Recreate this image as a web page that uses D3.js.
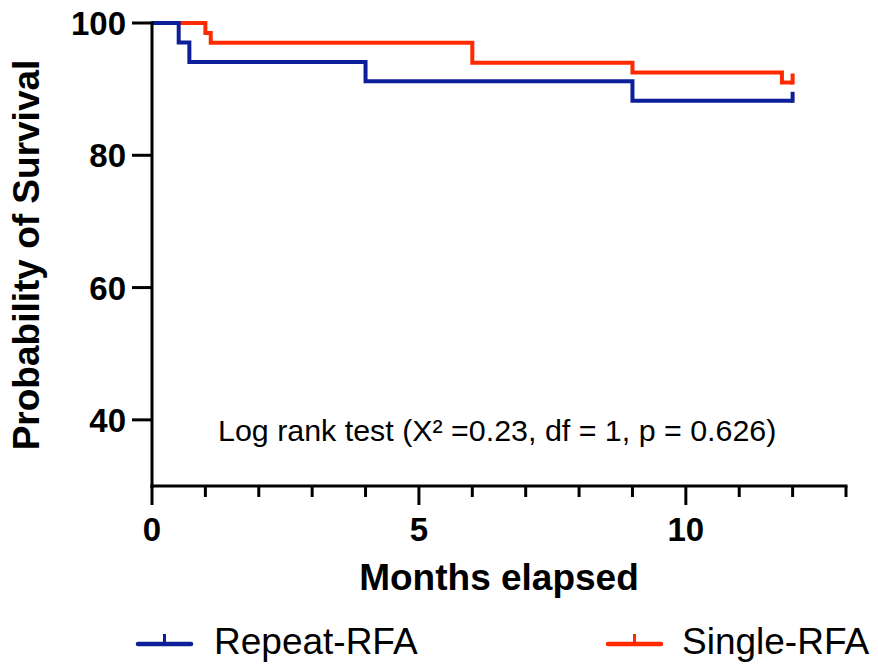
<!DOCTYPE html>
<html>
<head>
<meta charset="utf-8">
<script src="https://cdn.jsdelivr.net/npm/d3@7"></script>
<style>
  body { margin: 0; background: #fff; }
  text { font-family: "Liberation Sans", Arial, sans-serif; }
</style>
</head>
<body>
<div id="chart"></div>
<script>
// Kaplan-Meier steps
const repeatTimes = [0, 0.5, 0.7, 4, 9, 12];
const repeatSurv = [100, 97.06, 94.12, 91.18, 88.24, 88.24];
const singleTimes = [0, 1.0, 1.1, 6, 9, 11.8, 12];
const singleSurv = [100, 98.5, 97.0, 94.0, 92.5, 91.0, 91.0];
const censorTime = 12;
const seriesNames = ["Repeat-RFA", "Single-RFA"];
const seriesColors = ["#0c1f98", "#ff2a00"];
const yTicks = [40, 60, 80, 100];
const xMajor = [0, 5, 10];
const xMinor = d3.range(0, 14);

const width = 878, height = 666;
const margin = { left: 152, top: 23, right: 32, bottom: 180 };

const svg = d3.select("#chart").append("svg")
    .attr("width", width)
    .attr("height", height);

const x = d3.scaleLinear().domain([0, 13]).range([margin.left, width - margin.right]);
const y = d3.scaleLinear().domain([30, 100]).range([486, margin.top]);

//curves
const series = [
    { name: seriesNames[0], t: repeatTimes, s: repeatSurv, color: seriesColors[0] },
    { name: seriesNames[1], t: singleTimes, s: singleSurv, color: seriesColors[1] }
];
const line = d3.line()
    .x(d => x(d[0]))
    .y(d => y(d[1]))
    .curve(d3.curveStepAfter);

// red first so blue sits on top near 100
series.slice().reverse().forEach(sr => {
    const pts = sr.t.map((t, i) => [t, sr.s[i]]);
    svg.append("path")
        .attr("d", line(pts))
        .attr("fill", "none")
        .attr("stroke", sr.color)
        .attr("stroke-width", 4)
        .attr("stroke-linejoin", "miter");
    //censor mark
    const last = sr.s[sr.s.length - 1];
    svg.append("line")
        .attr("x1", x(censorTime)).attr("x2", x(censorTime))
        .attr("y1", y(last) + 2).attr("y2", y(last) - 9)
        .attr("stroke", sr.color)
        .attr("stroke-width", 4);
});

//Y axis
svg.append("line")
    .attr("x1", x(0)).attr("x2", x(0))
    .attr("y1", y(100) - 1.5).attr("y2", y(30) + 2)
    .attr("stroke", "#000").attr("stroke-width", 3);
svg.selectAll(".ytick")
    .data(yTicks)
    .enter().append("line")
    .attr("x1", x(0) - 20).attr("x2", x(0))
    .attr("y1", d => y(d)).attr("y2", d => y(d))
    .attr("stroke", "#000").attr("stroke-width", 3);
svg.selectAll(".ylab")
    .data(yTicks)
    .enter().append("text")
    .attr("x", 126)
    .attr("y", d => y(d) + 12)
    .attr("text-anchor", "end")
    .attr("font-size", 33)
    .attr("font-weight", "bold")
    .text(d => d);

//X axis
svg.append("line")
    .attr("x1", x(0) - 1.5).attr("x2", x(13) + 1.5)
    .attr("y1", y(30)).attr("y2", y(30))
    .attr("stroke", "#000").attr("stroke-width", 3);
svg.selectAll(".xtick")
    .data(xMinor)
    .enter().append("line")
    .attr("x1", d => x(d)).attr("x2", d => x(d))
    .attr("y1", y(30))
    .attr("y2", d => y(30) + (d % 5 === 0 ? 19 : 11))
    .attr("stroke", "#000").attr("stroke-width", 3);
svg.selectAll(".xlab")
    .data(xMajor)
    .enter().append("text")
    .attr("x", d => x(d))
    .attr("y", 541)
    .attr("text-anchor", "middle")
    .attr("font-size", 33)
    .attr("font-weight", "bold")
    .text(d => d);

//axis titles
svg.append("text")
    .attr("x", 499)
    .attr("y", 590)
    .attr("text-anchor", "middle")
    .attr("font-size", 37)
    .attr("font-weight", "bold")
    .text("Months elapsed");
svg.append("text")
    .attr("transform", `translate(${39},${255}) rotate(-90)`)
    .attr("text-anchor", "middle")
    .attr("font-size", 37)
    .attr("font-weight", "bold")
    .text("Probability of Survival");

//annotation
svg.append("text")
    .attr("x", 218)
    .attr("y", 441)
    .attr("font-size", 30.4)
    .text("Log rank test (X² =0.23, df = 1, p = 0.626)");

//legend
const legendX = [138, 608];
const legendTextX = [214, 682];
series.forEach((sr, i) => {
    const g = svg.append("g").attr("transform", `translate(${legendX[i]},${644})`);
    g.append("line")
        .attr("x1", 0).attr("x2", 53)
        .attr("stroke", sr.color).attr("stroke-width", 4.5)
        .attr("stroke-linecap", "round");
    g.append("line")
        .attr("x1", 26.5).attr("x2", 26.5)
        .attr("y1", 0).attr("y2", -10)
        .attr("stroke", sr.color).attr("stroke-width", 3);
    svg.append("text")
        .attr("x", legendTextX[i])
        .attr("y", 654)
        .attr("font-size", 37)
        .text(sr.name);
});
</script>
</body>
</html>
